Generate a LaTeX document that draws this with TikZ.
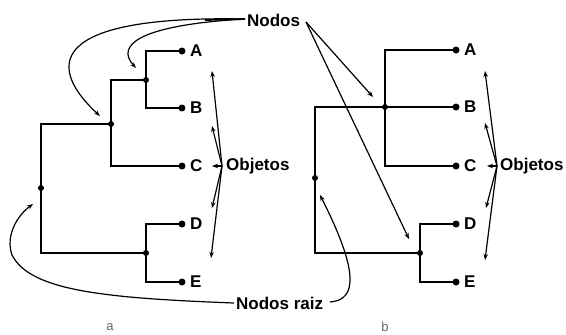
\documentclass[tikz,border=0pt]{standalone}
\usepackage{fontspec}
\setmainfont{Liberation Sans}
\usetikzlibrary{arrows.meta}
\begin{document}
\begin{tikzpicture}[x=1pt,y=-1pt,
  branch/.style={line width=2.2pt,line cap=rect},
  dot/.style={circle,fill=black,inner sep=0pt,minimum size=7pt},
  ndot/.style={circle,fill=black,inner sep=0pt,minimum size=6pt},
  leaf/.style={font=\fontsize{17}{17}\selectfont\bfseries,anchor=west,inner sep=0pt},
  lbl/.style={font=\fontsize{17}{17}\selectfont\bfseries,anchor=west,inner sep=0pt},
  captxt/.style={font=\fontsize{13}{13}\selectfont,inner sep=0pt,text=black!60},
  pt/.style={line width=1.2pt,-{Stealth[length=6pt,width=4.5pt]}},
  ln/.style={line width=1.2pt}
]
\useasboundingbox (0,0) rectangle (566,335);
% ---------- tree a ----------
\node[ndot] (ar) at (41,188) {};
\node[ndot] (an2) at (111,124) {};
\node[ndot] (an1) at (146,80) {};
\node[ndot] (an3) at (146,253) {};
\node[dot] (aA) at (182,51) {};
\node[dot] (aB) at (182,108) {};
\node[dot] (aC) at (182,166) {};
\node[dot] (aD) at (182,224) {};
\node[dot] (aE) at (182,282) {};
\draw[branch] (aA.center) -| (an1.center) |- (aB.center);
\draw[branch] (an1.center) -| (an2.center) |- (aC.center);
\draw[branch] (an2.center) -| (ar.center) |- (an3.center);
\draw[branch] (aD.center) -| (an3.center) |- (aE.center);
\node[leaf] (tA) at (190,51) {A};
\node[leaf] (tB) at (190,108) {B};
\node[leaf] (tC) at (190,166) {C};
\node[leaf] (tD) at (190,224) {D};
\node[leaf] (tE) at (190,282) {E};
% ---------- tree b ----------
\node[ndot] (br) at (315,178) {};
\node[ndot] (bn1) at (385,107) {};
\node[ndot] (bn2) at (420,253) {};
\node[dot] (bA) at (456,50) {};
\node[dot] (bB) at (456,107) {};
\node[dot] (bC) at (456,166) {};
\node[dot] (bD) at (456,224) {};
\node[dot] (bE) at (456,282) {};
\draw[branch] (bA.center) -| (bn1.center) |- (bC.center);
\draw[branch] (bB.center) -- (bn1.center) -- (315,107) -- (br.center) |- (bn2.center);
\draw[branch] (bD.center) -| (bn2.center) |- (bE.center);
\node[leaf] (uA) at (464,50) {A};
\node[leaf] (uB) at (464,107) {B};
\node[leaf] (uC) at (464,166) {C};
\node[leaf] (uD) at (464,224) {D};
\node[leaf] (uE) at (464,282) {E};
% ---------- labels ----------
\node[lbl] (nodos) at (247,20) {Nodos};
\node[lbl] (raiz) at (236,303) {Nodos raiz};
\node[lbl] (objA) at (226,166) {Objetos};
\node[lbl] (objB) at (500,166) {Objetos};
\node[captxt] (capa) at (110,327) {a};
\node[captxt] (capb) at (385,327) {b};
% ---------- Nodos arrows ----------
\coordinate (nL) at (245,19);
\coordinate (nR) at (306,22);
\draw[pt] (nL) .. controls (40,15) and (50,70) .. (100,116);
\draw[pt] (nL) .. controls (140,25) and (115,45) .. (136,68);
\draw[ln,line width=1.8pt] (nL) -- (205,20);
\draw[pt] (nR) -- (373,97);
\draw[pt] (nR) -- (409,239);
% ---------- Nodos raiz arrows ----------
\coordinate (rL) at (234,303);
\coordinate (rR) at (330,302);
\draw[pt] (rL) .. controls (100,298) and (30,290) .. (12,255) .. controls (5,235) and (18,215) .. (33,204);
\draw[pt] (rR) .. controls (358,300) and (358,270) .. (320,195);
% ---------- Objetos arrows a ----------
\coordinate (oa) at (222,166);
\draw[pt] (oa) -- (212,166);
\draw[pt] (oa) -- (212,71);
\draw[pt] (oa) -- (212,126);
\draw[pt] (oa) -- (212,208);
\draw[pt] (oa) -- (211,258);
% ---------- Objetos arrows b ----------
\coordinate (ob) at (497,166);
\draw[pt] (ob) -- (487,166);
\draw[pt] (ob) -- (485,71);
\draw[pt] (ob) -- (485,123);
\draw[pt] (ob) -- (486,208);
\draw[pt] (ob) -- (485,260);
\end{tikzpicture}
\end{document}
